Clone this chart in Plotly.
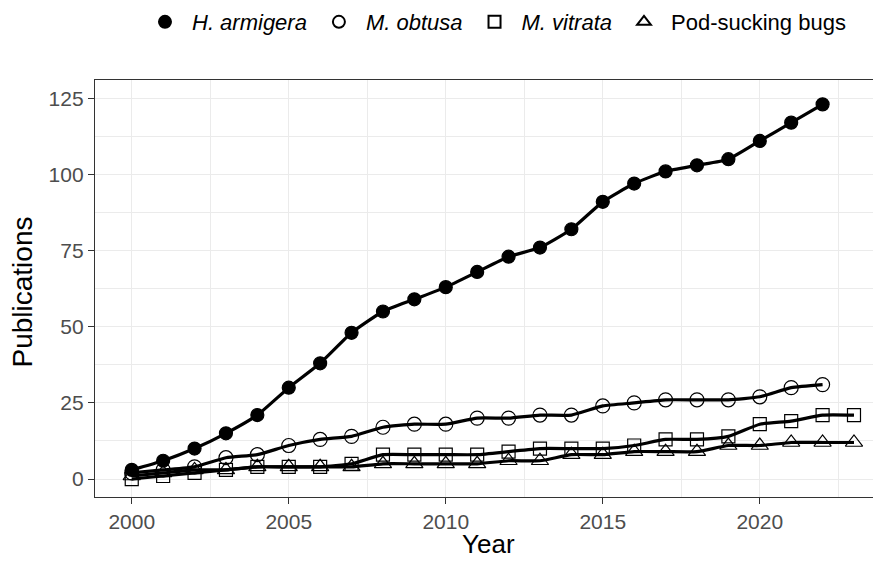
import plotly.graph_objects as go

years_a = list(range(2000, 2023))
h_armigera = [3, 6, 10, 15, 21, 30, 38, 48, 55, 59, 63, 68, 73, 76, 82, 91, 97, 101, 103, 105, 111, 117, 123]
m_obtusa = [2, 3, 4, 7, 8, 11, 13, 14, 17, 18, 18, 20, 20, 21, 21, 24, 25, 26, 26, 26, 27, 30, 31]
years_b = list(range(2000, 2024))
m_vitrata = [0, 1, 2, 3, 4, 4, 4, 5, 8, 8, 8, 8, 9, 10, 10, 10, 11, 13, 13, 14, 18, 19, 21, 21]
pod_bugs = [1, 2, 3, 3, 4, 4, 4, 4, 5, 5, 5, 5, 6, 6, 8, 8, 9, 9, 9, 11, 11, 12, 12, 12]

series = [
    ("<i>H. armigera</i>", years_a, h_armigera, "circle", 13),
    ("<i>M. obtusa</i>", years_a, m_obtusa, "circle-open", 14),
    ("<i>M. vitrata</i>", years_b, m_vitrata, "square-open", 13),
    ("Pod-sucking bugs", years_b, pod_bugs, "triangle-up-open", 15),
]

fig = go.Figure()
for name, xs, ys, sym, sz in series:
    fig.add_trace(go.Scatter(
        x=xs, y=ys, mode="lines", showlegend=False,
        line=dict(color="black", width=3.2, shape="spline", smoothing=0.5),
        hoverinfo="skip"))
for name, xs, ys, sym, sz in series:
    fig.add_trace(go.Scatter(
        x=xs, y=ys, mode="markers", name=name,
        marker=dict(symbol=sym, size=sz, color="black",
                    line=dict(color="black", width=1.2))))

axis_common = dict(
    showgrid=True, gridcolor="#EBEBEB", gridwidth=1.2,
    zeroline=False,
    showline=True, linecolor="#333333", linewidth=1.3,
    ticks="outside", ticklen=6, tickwidth=1.2, tickcolor="#333333",
    tickfont=dict(family="Liberation Sans", size=21, color="#4D4D4D"),
    automargin=False,
)

# the page has an 8px body margin; the figure is sized so it ends at the window edge
fig.update_layout(
    width=873, height=553,
    margin=dict(l=87, r=0, t=72, b=64, autoexpand=False),
    paper_bgcolor="white", plot_bgcolor="white",
    font=dict(family="Liberation Sans", color="black"),
    xaxis=dict(
        range=[1998.83, 2023.86], tickmode="array",
        tickvals=[2000, 2005, 2010, 2015, 2020],
        mirror=True,
        minor=dict(showgrid=True, gridcolor="#EBEBEB", gridwidth=0.6,
                   tickmode="array", tickvals=[2002.5, 2007.5, 2012.5, 2017.5, 2022.5]),
        **axis_common),
    yaxis=dict(
        range=[-5.9, 131.0], tickmode="array",
        tickvals=[0, 25, 50, 75, 100, 125],
        mirror=False,
        minor=dict(showgrid=True, gridcolor="#EBEBEB", gridwidth=0.6,
                   tickmode="array", tickvals=[12.5, 37.5, 62.5, 87.5, 112.5]),
        **axis_common),
    legend=dict(
        orientation="h", x=0.0547, xanchor="left", y=1.139, yanchor="middle",
        font=dict(family="Liberation Sans", size=22, color="black"),
        bgcolor="rgba(0,0,0,0)", itemsizing="constant", itemwidth=44,
    ),
    annotations=[
        dict(text="Year", xref="paper", yref="paper", x=0.5, y=0,
             xanchor="center", yanchor="middle", yshift=-47, borderpad=0,
             showarrow=False,
             font=dict(family="Liberation Sans", size=26, color="black")),
        dict(text="Publications", xref="paper", yref="paper", x=0, y=0.4916,
             xanchor="center", yanchor="middle", xshift=-72.5, textangle=-90,
             showarrow=False,
             font=dict(family="Liberation Sans", size=28, color="black")),
    ],
)

fig.write_html("out.html")
